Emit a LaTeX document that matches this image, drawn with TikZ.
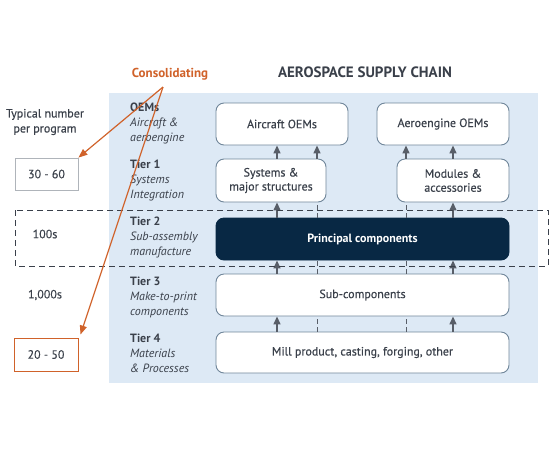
\documentclass[tikz,border=0pt]{standalone}
\usepackage{fontspec}
\setmainfont{PT Sans}
\newfontfamily\boxfont{PT Sans}[FakeBold=0.4]
\usetikzlibrary{arrows.meta, positioning, calc}
\definecolor{panelblue}{RGB}{221, 233, 245}
\definecolor{boxedge}{RGB}{112, 134, 154}
\definecolor{navy1}{RGB}{8, 40, 68}
\definecolor{textgray}{RGB}{58, 64, 74}
\definecolor{arrowgray}{RGB}{88, 94, 104}
\definecolor{consorange}{RGB}{208, 98, 42}
\definecolor{rangegray}{RGB}{175, 180, 186}

\tikzset{
  tierbox/.style={draw=boxedge, fill=white, line width=0.9pt, rounded corners=8pt,
    align=center, font=\boxfont\fontsize{12}{14}\selectfont, text=textgray, inner sep=2pt},
  tierlabel/.style={anchor=north west, align=left, text=textgray, inner sep=0pt,
    font=\fontsize{12}{15}\selectfont},
  sidetext/.style={align=center, text=textgray, font=\boxfont\fontsize{12}{15}\selectfont},
  uparrow/.style={draw=arrowgray, line width=1.4pt, -{Triangle[width=7pt, length=8pt]}},
  tick/.style={draw=arrowgray, line width=1pt, dash pattern=on 5pt off 3pt},
  consarrow/.style={draw=consorange, line width=1.2pt, -{Triangle[width=7pt, length=9pt]}}
}

\begin{document}
\begin{tikzpicture}[x=1pt, y=-1pt]
  \useasboundingbox (0,0) rectangle (560,467);

  % Panel
  \fill[panelblue] (109,93) rectangle (538,383);
  \node[font=\bfseries\fontsize{15}{17}\selectfont, text=textgray] (title) at (365,72) {AEROSPACE SUPPLY CHAIN};

  % Tier labels
  \node[tierlabel] (oemlab) at (130,103) {\textbf{OEMs}\\\textit{Aircraft \&}\\\textit{aeroengine}};
  \node[tierlabel] (t1lab) at (130,160) {\textbf{Tier 1}\\\textit{Systems}\\\textit{Integration}};
  \node[tierlabel] (t2lab) at (130,217) {\textbf{Tier 2}\\\textit{Sub-assembly}\\\textit{manufacture}};
  \node[tierlabel] (t3lab) at (130,277) {\textbf{Tier 3}\\\textit{Make-to-print}\\\textit{components}};
  \node[tierlabel] (t4lab) at (130,334) {\textbf{Tier 4}\\\textit{Materials}\\\textit{\& Processes}};

  % Boxes
  \node[tierbox, minimum width=132pt, minimum height=42pt] (aircraft) at (282,124) {Aircraft OEMs};
  \node[tierbox, minimum width=132pt, minimum height=42pt] (aeroengine) at (443,124) {Aeroengine OEMs};
  \node[tierbox, minimum width=110pt, minimum height=43pt] (systems) at (271,180.5) {Systems \&\\major structures};
  \node[tierbox, minimum width=112pt, minimum height=43pt] (modules) at (453,180.5) {Modules \&\\accessories};
  \node[tierbox, draw=navy1, fill=navy1, text=white, font=\bfseries\fontsize{12}{14}\selectfont,
    minimum width=293pt, minimum height=42pt] (principal) at (362.5,239) {Principal components};
  \node[tierbox, minimum width=293pt, minimum height=42pt] (subcomp) at (362.5,295) {Sub-components};
  \node[tierbox, minimum width=293pt, minimum height=41pt] (mill) at (362.5,352.5) {Mill product, casting, forging, other};

  % Arrow columns
  \coordinate (c1) at (277,0);
  \coordinate (c2) at (317,0);
  \coordinate (c3) at (406,0);
  \coordinate (c4) at (453,0);

  \draw[uparrow] (systems.north -| c1) -- (aircraft.south -| c1);
  \draw[uparrow] (systems.north -| c2) -- (aircraft.south -| c2);
  \draw[uparrow] (modules.north -| c3) -- (aeroengine.south -| c3);
  \draw[uparrow] (modules.north -| c4) -- (aeroengine.south -| c4);

  \draw[uparrow] (principal.north -| c1) -- (systems.south -| c1);
  \draw[tick] (principal.north -| c2) -- (systems.south -| c2);
  \draw[tick] (principal.north -| c3) -- (modules.south -| c3);
  \draw[uparrow] (principal.north -| c4) -- (modules.south -| c4);

  \foreach \c/\lo/\hi in {c1/subcomp/principal, c4/subcomp/principal, c1/mill/subcomp, c4/mill/subcomp}
    \draw[uparrow] (\lo.north -| \c) -- (\hi.south -| \c);
  \foreach \c/\lo/\hi in {c2/subcomp/principal, c3/subcomp/principal, c2/mill/subcomp, c3/mill/subcomp}
    \draw[tick] (\lo.north -| \c) -- (\hi.south -| \c);

  % Dashed band round Tier 2
  \draw[draw=textgray, line width=1pt, dash pattern=on 6pt off 4pt] (15,210) rectangle (548,266);

  % Left column
  \node[sidetext] (typical) at (45,122) {Typical number\\per program};
  \node[draw=rangegray, line width=0.8pt, minimum width=63pt, minimum height=32pt, sidetext] (range1) at (46.5,174) {30 - 60};
  \node[sidetext] (hundreds) at (45,234) {100s};
  \node[sidetext] (thousands) at (45,295) {1,000s};
  \node[draw=consorange, line width=1pt, minimum width=64pt, minimum height=33pt, sidetext] (range2) at (46,354.5) {20 - 50};

  % Consolidating
  \node[font=\bfseries\fontsize{13}{15}\selectfont, text=consorange] (consol) at (170,74) {Consolidating};
  \coordinate (fork) at (163,87);
  \draw[consarrow] (fork) -- (range1.north east);
  \draw[consarrow] (fork) -- ($(range2.north east)+(2,-3)$);
\end{tikzpicture}
\end{document}
